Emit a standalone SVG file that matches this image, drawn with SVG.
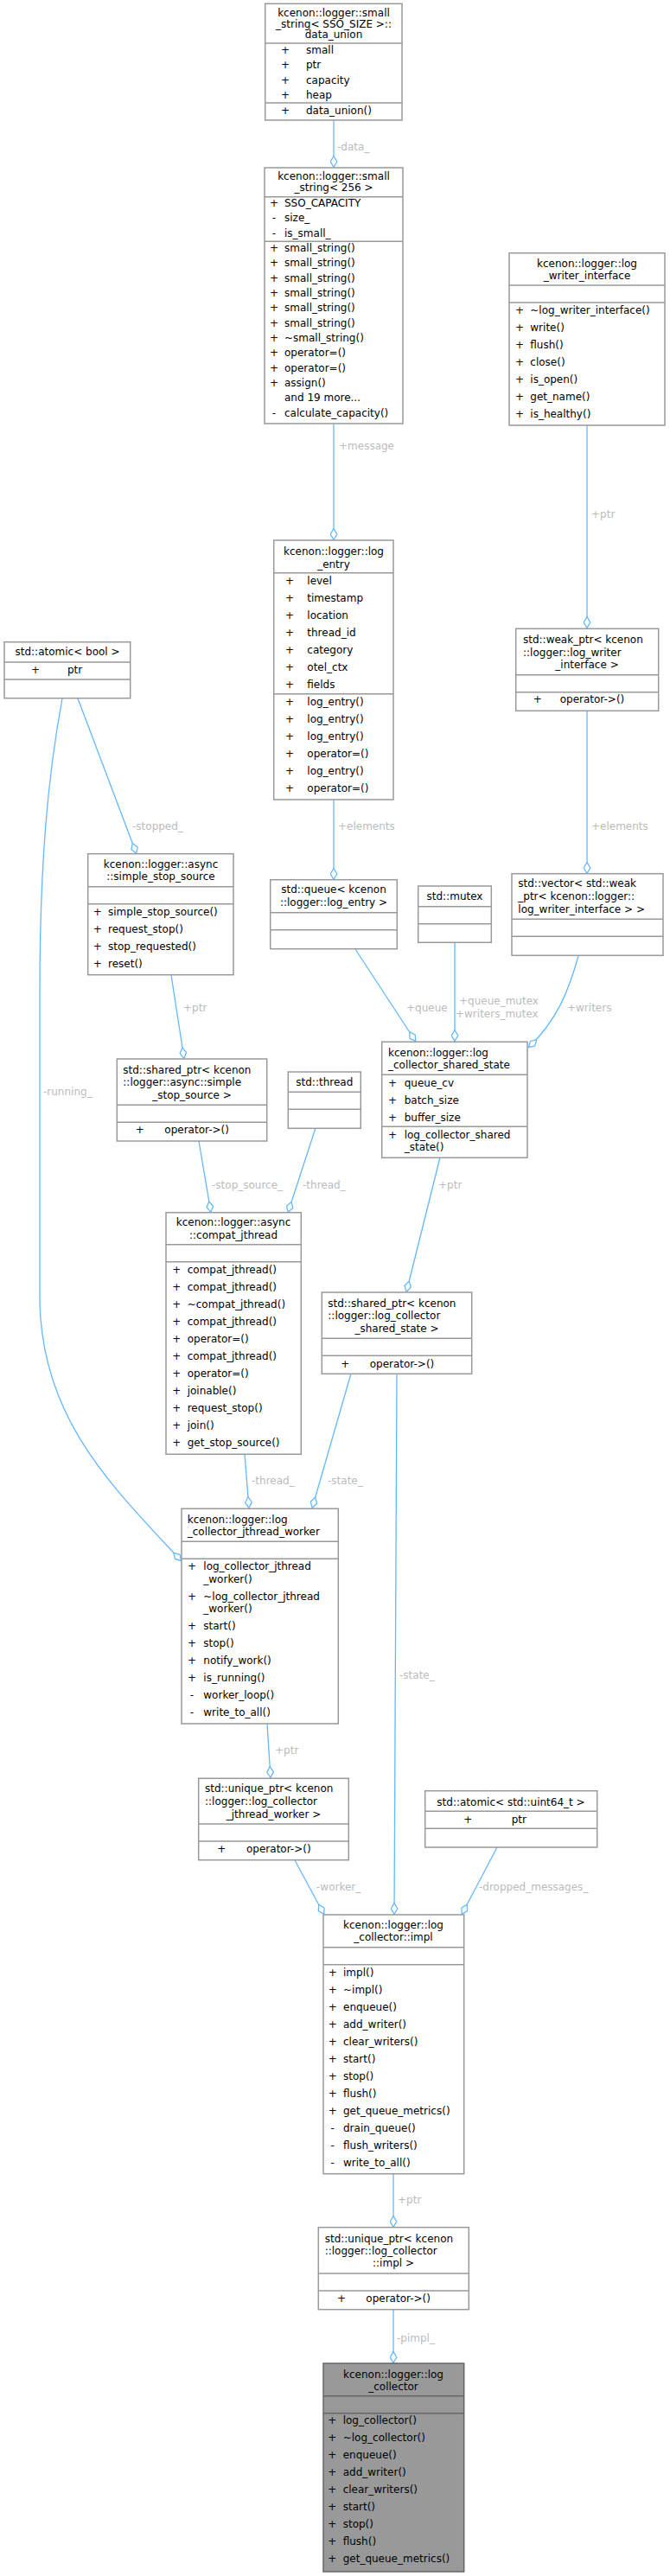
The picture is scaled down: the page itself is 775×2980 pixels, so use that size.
<svg xmlns="http://www.w3.org/2000/svg" width="775" height="2980" viewBox="0 0 775 2980">
<style>
rect.b{fill:#fff;stroke:#999;stroke-width:1.5}
rect.main{fill:#999;stroke:#666;stroke-width:1.5}
line.d{stroke:#999;stroke-width:1.5}
text{font-family:"DejaVu Sans",sans-serif;font-size:12px;fill:#000}
.c{text-anchor:middle}
.lb{fill:#bbb}
.e{fill:none;stroke:#63b8ff;stroke-width:1.3}
</style>
<defs>
<marker id="dia" viewBox="0 0 14 9" refX="14" refY="4.5" markerWidth="14" markerHeight="9" markerUnits="userSpaceOnUse" orient="auto">
<path d="M0.7,4.5 L7,0.7 L13.3,4.5 L7,8.3 Z" fill="#fff" stroke="#63b8ff" stroke-width="1.3"/>
</marker>
</defs>
<g id="edges">
<path class="e" marker-end="url(#dia)" d="M386,139 L386,194"/>
<text class="lb" x="390" y="174">-data_</text>
<path class="e" marker-end="url(#dia)" d="M386,490 L386,625"/>
<text class="lb" x="392" y="520">+message</text>
<path class="e" marker-end="url(#dia)" d="M679,492 L679,727"/>
<text class="lb" x="684" y="599">+ptr</text>
<path class="e" marker-end="url(#dia)" d="M386,925 L386,1018"/>
<text class="lb" x="391" y="960">+elements</text>
<path class="e" marker-end="url(#dia)" d="M679,822 L679,1011"/>
<text class="lb" x="684" y="960">+elements</text>
<path class="e" marker-end="url(#dia)" d="M411,1098 L481,1205"/>
<text class="lb" x="470" y="1170">+queue</text>
<path class="e" marker-end="url(#dia)" d="M526,1090 L526,1205"/>
<text class="lb" x="531" y="1162">+queue_mutex</text>
<text class="lb" x="527" y="1177">+writers_mutex</text>
<path class="e" marker-end="url(#dia)" d="M669,1106 C658,1145 645,1180 611,1212"/>
<text class="lb" x="656" y="1170">+writers</text>
<path class="e" marker-end="url(#dia)" d="M509,1339 L470,1495"/>
<text class="lb" x="507" y="1375">+ptr</text>
<path class="e" marker-end="url(#dia)" d="M90,808 L158,988"/>
<text class="lb" x="153" y="960">-stopped_</text>
<path class="e" marker-end="url(#dia)" d="M198,1128 L213,1225"/>
<text class="lb" x="212" y="1170">+ptr</text>
<path class="e" marker-end="url(#dia)" d="M230,1320 L244,1403"/>
<text class="lb" x="245" y="1375">-stop_source_</text>
<path class="e" marker-end="url(#dia)" d="M365,1305 L333,1403"/>
<text class="lb" x="350" y="1375">-thread_</text>
<path class="e" marker-end="url(#dia)" d="M72,808 C55,900 46,1000 46,1150 L46,1500 C46,1640 130,1720 210,1806"/>
<text class="lb" x="50" y="1267">-running_</text>
<path class="e" marker-end="url(#dia)" d="M283,1682 L288,1745"/>
<text class="lb" x="291" y="1717">-thread_</text>
<path class="e" marker-end="url(#dia)" d="M406,1589 L361,1745"/>
<text class="lb" x="379" y="1717">-state_</text>
<path class="e" marker-end="url(#dia)" d="M459,1589 L456,2215"/>
<text class="lb" x="462" y="1942">-state_</text>
<path class="e" marker-end="url(#dia)" d="M309,1994 L313,2057"/>
<text class="lb" x="318" y="2029">+ptr</text>
<path class="e" marker-end="url(#dia)" d="M341,2152 L375,2215"/>
<text class="lb" x="366" y="2187">-worker_</text>
<path class="e" marker-end="url(#dia)" d="M575,2137 L534,2215"/>
<text class="lb" x="554" y="2187">-dropped_messages_</text>
<path class="e" marker-end="url(#dia)" d="M455,2515 L455,2577"/>
<text class="lb" x="460" y="2549">+ptr</text>
<path class="e" marker-end="url(#dia)" d="M455,2672 L455,2734"/>
<text class="lb" x="459" y="2709">-pimpl_</text>
</g>

<g id="data_union">
<rect class="b" x="306.7" y="4.3" width="158.3" height="134.7"/>
<line class="d" x1="306.7" y1="50" x2="465" y2="50"/><line class="d" x1="306.7" y1="119" x2="465" y2="119"/>
<text class="c" x="386" y="18.5">kcenon::logger::small</text>
<text class="c" x="386" y="31.5">_string&lt; SSO_SIZE &gt;::</text>
<text class="c" x="386" y="44">data_union</text>
<text class="c" x="330" y="62">+</text><text x="354" y="62">small</text>
<text class="c" x="330" y="79.3">+</text><text x="354" y="79.3">ptr</text>
<text class="c" x="330" y="96.6">+</text><text x="354" y="96.6">capacity</text>
<text class="c" x="330" y="114">+</text><text x="354" y="114">heap</text>
<text class="c" x="330" y="131.5">+</text><text x="354" y="131.5">data_union()</text>
</g>

<g id="small_string">
<rect class="b" x="306" y="194" width="160" height="296"/>
<line class="d" x1="306" y1="227.7" x2="466" y2="227.7"/><line class="d" x1="306" y1="279.3" x2="466" y2="279.3"/>
<text class="c" x="386" y="208">kcenon::logger::small</text>
<text class="c" x="386" y="221">_string&lt; 256 &gt;</text>
<text class="c" x="317" y="239">+</text><text x="329" y="239">SSO_CAPACITY</text>
<text class="c" x="317" y="256.3">-</text><text x="329" y="256.3">size_</text>
<text class="c" x="317" y="273.7">-</text><text x="329" y="273.7">is_small_</text>
<text class="c" x="317" y="291">+</text><text x="329" y="291">small_string()</text>
<text class="c" x="317" y="308.3">+</text><text x="329" y="308.3">small_string()</text>
<text class="c" x="317" y="325.7">+</text><text x="329" y="325.7">small_string()</text>
<text class="c" x="317" y="343">+</text><text x="329" y="343">small_string()</text>
<text class="c" x="317" y="360.3">+</text><text x="329" y="360.3">small_string()</text>
<text class="c" x="317" y="377.7">+</text><text x="329" y="377.7">small_string()</text>
<text class="c" x="317" y="395">+</text><text x="329" y="395">~small_string()</text>
<text class="c" x="317" y="412.3">+</text><text x="329" y="412.3">operator=()</text>
<text class="c" x="317" y="429.7">+</text><text x="329" y="429.7">operator=()</text>
<text class="c" x="317" y="447">+</text><text x="329" y="447">assign()</text>
<text x="329" y="464.3">and 19 more...</text>
<text class="c" x="317" y="481.7">-</text><text x="329" y="481.7">calculate_capacity()</text>
</g>

<g id="log_writer_interface">
<rect class="b" x="589" y="292.7" width="180" height="199.3"/>
<line class="d" x1="589" y1="330" x2="769" y2="330"/><line class="d" x1="589" y1="350" x2="769" y2="350"/>
<text class="c" x="679" y="309">kcenon::logger::log</text>
<text class="c" x="679" y="323">_writer_interface</text>
<text class="c" x="601" y="363.3">+</text><text x="613.3" y="363.3">~log_writer_interface()</text>
<text class="c" x="601" y="383.3">+</text><text x="613.3" y="383.3">write()</text>
<text class="c" x="601" y="403.3">+</text><text x="613.3" y="403.3">flush()</text>
<text class="c" x="601" y="423.3">+</text><text x="613.3" y="423.3">close()</text>
<text class="c" x="601" y="443.3">+</text><text x="613.3" y="443.3">is_open()</text>
<text class="c" x="601" y="463.3">+</text><text x="613.3" y="463.3">get_name()</text>
<text class="c" x="601" y="483.3">+</text><text x="613.3" y="483.3">is_healthy()</text>
</g>

<g id="log_entry">
<rect class="b" x="316.7" y="625" width="138.3" height="300"/>
<line class="d" x1="316.7" y1="662.7" x2="455" y2="662.7"/><line class="d" x1="316.7" y1="802.7" x2="455" y2="802.7"/>
<text class="c" x="386" y="642.3">kcenon::logger::log</text>
<text class="c" x="386" y="656.7">_entry</text>
<text class="c" x="335" y="676.3">+</text><text x="355.3" y="676.3">level</text>
<text class="c" x="335" y="696.3">+</text><text x="355.3" y="696.3">timestamp</text>
<text class="c" x="335" y="716.3">+</text><text x="355.3" y="716.3">location</text>
<text class="c" x="335" y="736.3">+</text><text x="355.3" y="736.3">thread_id</text>
<text class="c" x="335" y="756.3">+</text><text x="355.3" y="756.3">category</text>
<text class="c" x="335" y="776.3">+</text><text x="355.3" y="776.3">otel_ctx</text>
<text class="c" x="335" y="796.3">+</text><text x="355.3" y="796.3">fields</text>
<text class="c" x="335" y="816.3">+</text><text x="355.3" y="816.3">log_entry()</text>
<text class="c" x="335" y="836.3">+</text><text x="355.3" y="836.3">log_entry()</text>
<text class="c" x="335" y="856.3">+</text><text x="355.3" y="856.3">log_entry()</text>
<text class="c" x="335" y="876.3">+</text><text x="355.3" y="876.3">operator=()</text>
<text class="c" x="335" y="896.3">+</text><text x="355.3" y="896.3">log_entry()</text>
<text class="c" x="335" y="916.3">+</text><text x="355.3" y="916.3">operator=()</text>
</g>

<g id="weak_ptr">
<rect class="b" x="596.7" y="727.3" width="165" height="95"/>
<line class="d" x1="596.7" y1="780.7" x2="761.7" y2="780.7"/><line class="d" x1="596.7" y1="800.7" x2="761.7" y2="800.7"/>
<text x="605" y="744">std::weak_ptr&lt; kcenon</text>
<text x="605" y="758.7">::logger::log_writer</text>
<text class="c" x="679" y="773.3">_interface &gt;</text>
<text class="c" x="621.7" y="813.3">+</text><text x="647.7" y="813.3">operator-&gt;()</text>
</g>

<g id="atomic_bool">
<rect class="b" x="5" y="742.7" width="145.7" height="65"/>
<line class="d" x1="5" y1="766" x2="150.7" y2="766"/><line class="d" x1="5" y1="786" x2="150.7" y2="786"/>
<text class="c" x="78" y="758.3">std::atomic&lt; bool &gt;</text>
<text class="c" x="41" y="778.7">+</text><text x="78" y="778.7">ptr</text>
</g>

<g id="simple_stop_source">
<rect class="b" x="101.7" y="987.7" width="168.3" height="140"/>
<line class="d" x1="101.7" y1="1025.7" x2="270" y2="1025.7"/><line class="d" x1="101.7" y1="1045.7" x2="270" y2="1045.7"/>
<text class="c" x="186" y="1004.3">kcenon::logger::async</text>
<text class="c" x="186" y="1018.3">::simple_stop_source</text>
<text class="c" x="112.7" y="1058.7">+</text><text x="125" y="1058.7">simple_stop_source()</text>
<text class="c" x="112.7" y="1078.7">+</text><text x="125" y="1078.7">request_stop()</text>
<text class="c" x="112.7" y="1098.7">+</text><text x="125" y="1098.7">stop_requested()</text>
<text class="c" x="112.7" y="1118.7">+</text><text x="125" y="1118.7">reset()</text>
</g>

<g id="queue">
<rect class="b" x="312.7" y="1017.7" width="146.6" height="80"/>
<line class="d" x1="312.7" y1="1055.7" x2="459.3" y2="1055.7"/><line class="d" x1="312.7" y1="1075.7" x2="459.3" y2="1075.7"/>
<text class="c" x="386" y="1033.3">std::queue&lt; kcenon</text>
<text class="c" x="386" y="1048">::logger::log_entry &gt;</text>
</g>

<g id="mutex">
<rect class="b" x="483.7" y="1025" width="84.6" height="65.3"/>
<line class="d" x1="483.7" y1="1048.7" x2="568.3" y2="1048.7"/><line class="d" x1="483.7" y1="1068.7" x2="568.3" y2="1068.7"/>
<text class="c" x="526" y="1041.3">std::mutex</text>
</g>

<g id="vector">
<rect class="b" x="592" y="1010.7" width="175" height="94.6"/>
<line class="d" x1="592" y1="1063.3" x2="767" y2="1063.3"/><line class="d" x1="592" y1="1083.3" x2="767" y2="1083.3"/>
<text x="599.3" y="1026.3">std::vector&lt; std::weak</text>
<text x="599.3" y="1041">_ptr&lt; kcenon::logger::</text>
<text x="599.3" y="1055.7">log_writer_interface &gt; &gt;</text>
</g>

<g id="shared_state">
<rect class="b" x="441.7" y="1205.3" width="168.3" height="134"/>
<line class="d" x1="441.7" y1="1243.3" x2="610" y2="1243.3"/><line class="d" x1="441.7" y1="1303.3" x2="610" y2="1303.3"/>
<text x="449" y="1222.3">kcenon::logger::log</text>
<text x="449" y="1236.3">_collector_shared_state</text>
<text class="c" x="454" y="1256.7">+</text><text x="467.7" y="1256.7">queue_cv</text>
<text class="c" x="454" y="1276.7">+</text><text x="467.7" y="1276.7">batch_size</text>
<text class="c" x="454" y="1296.7">+</text><text x="467.7" y="1296.7">buffer_size</text>
<text class="c" x="454" y="1316.7">+</text><text x="467.7" y="1316.7">log_collector_shared</text>
<text x="467.7" y="1330.7">_state()</text>
</g>

<g id="thread">
<rect class="b" x="333.3" y="1240" width="84" height="65.3"/>
<line class="d" x1="333.3" y1="1263.3" x2="417.3" y2="1263.3"/><line class="d" x1="333.3" y1="1283.3" x2="417.3" y2="1283.3"/>
<text class="c" x="375.3" y="1255.7">std::thread</text>
</g>

<g id="shared_ptr_stop">
<rect class="b" x="135.3" y="1225" width="173.4" height="95"/>
<line class="d" x1="135.3" y1="1278.3" x2="308.7" y2="1278.3"/><line class="d" x1="135.3" y1="1298.3" x2="308.7" y2="1298.3"/>
<text x="142.3" y="1241.7">std::shared_ptr&lt; kcenon</text>
<text x="142.3" y="1256.3">::logger::async::simple</text>
<text class="c" x="222" y="1270.7">_stop_source &gt;</text>
<text class="c" x="161.7" y="1310.7">+</text><text x="190.3" y="1310.7">operator-&gt;()</text>
</g>

<g id="compat_jthread">
<rect class="b" x="192" y="1402.7" width="156.3" height="279.6"/>
<line class="d" x1="192" y1="1439.7" x2="348.3" y2="1439.7"/><line class="d" x1="192" y1="1459.7" x2="348.3" y2="1459.7"/>
<text class="c" x="270" y="1418.3">kcenon::logger::async</text>
<text class="c" x="270" y="1432.7">::compat_jthread</text>
<text class="c" x="204.3" y="1472.7">+</text><text x="216.7" y="1472.7">compat_jthread()</text>
<text class="c" x="204.3" y="1492.7">+</text><text x="216.7" y="1492.7">compat_jthread()</text>
<text class="c" x="204.3" y="1512.7">+</text><text x="216.7" y="1512.7">~compat_jthread()</text>
<text class="c" x="204.3" y="1532.7">+</text><text x="216.7" y="1532.7">compat_jthread()</text>
<text class="c" x="204.3" y="1552.7">+</text><text x="216.7" y="1552.7">operator=()</text>
<text class="c" x="204.3" y="1572.7">+</text><text x="216.7" y="1572.7">compat_jthread()</text>
<text class="c" x="204.3" y="1592.7">+</text><text x="216.7" y="1592.7">operator=()</text>
<text class="c" x="204.3" y="1612.7">+</text><text x="216.7" y="1612.7">joinable()</text>
<text class="c" x="204.3" y="1632.7">+</text><text x="216.7" y="1632.7">request_stop()</text>
<text class="c" x="204.3" y="1652.7">+</text><text x="216.7" y="1652.7">join()</text>
<text class="c" x="204.3" y="1672.7">+</text><text x="216.7" y="1672.7">get_stop_source()</text>
</g>

<g id="shared_ptr_state">
<rect class="b" x="372.3" y="1495" width="173.4" height="94.3"/>
<line class="d" x1="372.3" y1="1548.3" x2="545.7" y2="1548.3"/><line class="d" x1="372.3" y1="1568.3" x2="545.7" y2="1568.3"/>
<text x="379.3" y="1511.7">std::shared_ptr&lt; kcenon</text>
<text x="379.3" y="1526.3">::logger::log_collector</text>
<text class="c" x="459" y="1540.7">_shared_state &gt;</text>
<text class="c" x="399.3" y="1582.3">+</text><text x="427.7" y="1582.3">operator-&gt;()</text>
</g>

<g id="jthread_worker">
<rect class="b" x="210" y="1745.3" width="181.3" height="248.7"/>
<line class="d" x1="210" y1="1783.3" x2="391.3" y2="1783.3"/><line class="d" x1="210" y1="1803.3" x2="391.3" y2="1803.3"/>
<text x="216.7" y="1761.7">kcenon::logger::log</text>
<text x="216.7" y="1776.3">_collector_jthread_worker</text>
<text class="c" x="222" y="1816.3">+</text><text x="235.3" y="1816.3">log_collector_jthread</text>
<text x="235.3" y="1830.7">_worker()</text>
<text class="c" x="222" y="1850.7">+</text><text x="235.3" y="1850.7">~log_collector_jthread</text>
<text x="235.3" y="1865">_worker()</text>
<text class="c" x="222" y="1885.3">+</text><text x="235.3" y="1885.3">start()</text>
<text class="c" x="222" y="1905.3">+</text><text x="235.3" y="1905.3">stop()</text>
<text class="c" x="222" y="1925.3">+</text><text x="235.3" y="1925.3">notify_work()</text>
<text class="c" x="222" y="1945.3">+</text><text x="235.3" y="1945.3">is_running()</text>
<text class="c" x="222" y="1965.3">-</text><text x="235.3" y="1965.3">worker_loop()</text>
<text class="c" x="222" y="1985.3">-</text><text x="235.3" y="1985.3">write_to_all()</text>
</g>

<g id="unique_ptr_worker">
<rect class="b" x="229.7" y="2057.3" width="173.6" height="94.4"/>
<line class="d" x1="229.7" y1="2110" x2="403.3" y2="2110"/><line class="d" x1="229.7" y1="2130" x2="403.3" y2="2130"/>
<text x="237" y="2073.3">std::unique_ptr&lt; kcenon</text>
<text x="237" y="2088.3">::logger::log_collector</text>
<text class="c" x="316.5" y="2102.7">_jthread_worker &gt;</text>
<text class="c" x="256.3" y="2143">+</text><text x="285" y="2143">operator-&gt;()</text>
</g>

<g id="atomic_uint64">
<rect class="b" x="491.7" y="2071.7" width="199" height="65.3"/>
<line class="d" x1="491.7" y1="2095.3" x2="690.7" y2="2095.3"/><line class="d" x1="491.7" y1="2115.3" x2="690.7" y2="2115.3"/>
<text class="c" x="591" y="2088.7">std::atomic&lt; std::uint64_t &gt;</text>
<text class="c" x="541.3" y="2109">+</text><text x="591.7" y="2109">ptr</text>
</g>

<g id="impl">
<rect class="b" x="374" y="2215" width="162.7" height="299.7"/>
<line class="d" x1="374" y1="2252.7" x2="536.7" y2="2252.7"/><line class="d" x1="374" y1="2272.7" x2="536.7" y2="2272.7"/>
<text class="c" x="455" y="2230.7">kcenon::logger::log</text>
<text class="c" x="455" y="2245.3">_collector::impl</text>
<text class="c" x="384.7" y="2285.7">+</text><text x="397" y="2285.7">impl()</text>
<text class="c" x="384.7" y="2305.7">+</text><text x="397" y="2305.7">~impl()</text>
<text class="c" x="384.7" y="2325.7">+</text><text x="397" y="2325.7">enqueue()</text>
<text class="c" x="384.7" y="2345.7">+</text><text x="397" y="2345.7">add_writer()</text>
<text class="c" x="384.7" y="2365.7">+</text><text x="397" y="2365.7">clear_writers()</text>
<text class="c" x="384.7" y="2385.7">+</text><text x="397" y="2385.7">start()</text>
<text class="c" x="384.7" y="2405.7">+</text><text x="397" y="2405.7">stop()</text>
<text class="c" x="384.7" y="2425.7">+</text><text x="397" y="2425.7">flush()</text>
<text class="c" x="384.7" y="2445.7">+</text><text x="397" y="2445.7">get_queue_metrics()</text>
<text class="c" x="384.7" y="2465.7">-</text><text x="397" y="2465.7">drain_queue()</text>
<text class="c" x="384.7" y="2485.7">-</text><text x="397" y="2485.7">flush_writers()</text>
<text class="c" x="384.7" y="2505.7">-</text><text x="397" y="2505.7">write_to_all()</text>
</g>

<g id="unique_ptr_impl">
<rect class="b" x="368.3" y="2576.7" width="174" height="95"/>
<line class="d" x1="368.3" y1="2630" x2="542.3" y2="2630"/><line class="d" x1="368.3" y1="2650" x2="542.3" y2="2650"/>
<text x="375.7" y="2594">std::unique_ptr&lt; kcenon</text>
<text x="375.7" y="2608">::logger::log_collector</text>
<text class="c" x="455" y="2622.3">::impl &gt;</text>
<text class="c" x="395" y="2663">+</text><text x="423.3" y="2663">operator-&gt;()</text>
</g>

<g id="log_collector">
<rect class="main" x="374" y="2734" width="162.7" height="241"/>
<line x1="374" y1="2771.7" x2="536.7" y2="2771.7" stroke="#666" stroke-width="1.5"/><line x1="374" y1="2791.7" x2="536.7" y2="2791.7" stroke="#666" stroke-width="1.5"/>
<text class="c" x="455" y="2750.7">kcenon::logger::log</text>
<text class="c" x="455" y="2764.7">_collector</text>
<text class="c" x="384.3" y="2804">+</text><text x="396.7" y="2804">log_collector()</text>
<text class="c" x="384.3" y="2824">+</text><text x="396.7" y="2824">~log_collector()</text>
<text class="c" x="384.3" y="2844">+</text><text x="396.7" y="2844">enqueue()</text>
<text class="c" x="384.3" y="2864">+</text><text x="396.7" y="2864">add_writer()</text>
<text class="c" x="384.3" y="2884">+</text><text x="396.7" y="2884">clear_writers()</text>
<text class="c" x="384.3" y="2904">+</text><text x="396.7" y="2904">start()</text>
<text class="c" x="384.3" y="2924">+</text><text x="396.7" y="2924">stop()</text>
<text class="c" x="384.3" y="2944">+</text><text x="396.7" y="2944">flush()</text>
<text class="c" x="384.3" y="2964">+</text><text x="396.7" y="2964">get_queue_metrics()</text>
</g>
</svg>
